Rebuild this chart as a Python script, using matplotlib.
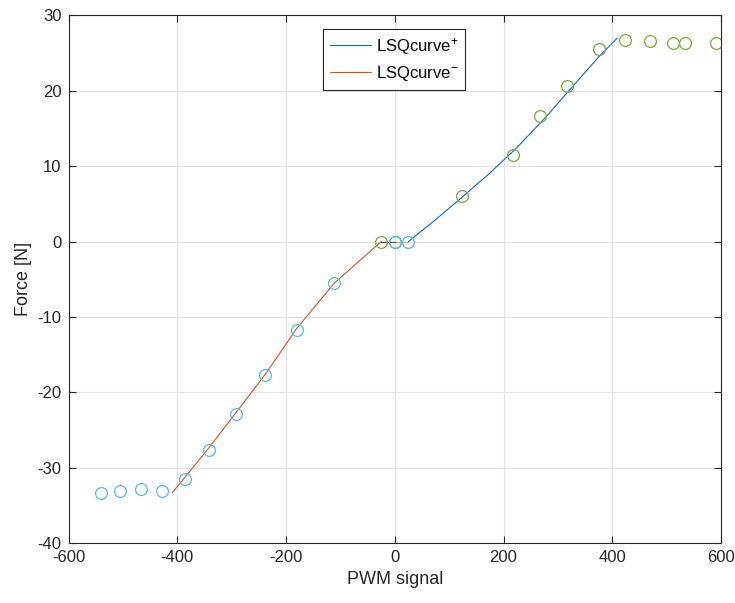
import matplotlib
matplotlib.use("Agg")
import matplotlib.pyplot as plt

# measured thrust vs PWM command
neg_pwm = [-541, -505, -467, -428, -386, -341, -292, -239, -180, -111, 0, 25]
neg_force = [-33.3, -33.1, -32.9, -33.1, -31.5, -27.6, -22.9, -17.7, -11.7, -5.5, 0, 0]
pos_pwm = [-25, 0, 124, 218, 267, 316, 376, 424, 470, 511, 534, 590]
pos_force = [0, 0, 6.0, 11.5, 16.6, 20.6, 25.5, 26.8, 26.6, 26.3, 26.3, 26.3]

# least-squares fits, evaluated over the non-saturated range
fit_pos_pwm = [25, 75, 124, 175, 225, 275, 325, 375, 409]
fit_pos_force = [0, 2.9, 5.9, 9.1, 12.5, 16.3, 20.4, 24.5, 27.0]
fit_neg_pwm = [-409, -386, -341, -292, -239, -180, -111, -25]
fit_neg_force = [-33.3, -31.3, -27.3, -22.7, -17.7, -11.5, -5.5, 0]

# dead band around zero
dead_neg_pwm = [-25, 0]
dead_pos_pwm = [0, 25]
dead_force = [0, 0]

plt.rcParams["font.family"] = ["Liberation Sans", "DejaVu Sans"]
plt.rcParams["mathtext.default"] = "regular"
plt.rcParams["axes.unicode_minus"] = False

fig = plt.figure(figsize=(7.35, 6.03), dpi=100)
ax = fig.add_axes([0.0932, 0.0995, 0.8878, 0.8748])

ax.plot(fit_pos_pwm, fit_pos_force, color="#0072BD", lw=0.8, label="LSQcurve$^{+}$")
ax.plot(fit_neg_pwm, fit_neg_force, color="#D95319", lw=0.8, label="LSQcurve$^{-}$")
ax.plot(dead_pos_pwm, dead_force, color="#EDB120", lw=0.8)
ax.plot(dead_neg_pwm, dead_force, color="#7E2F8E", lw=0.8)
ax.plot(pos_pwm, pos_force, "o", ms=8.5, mfc="none", mec="#77AC30", mew=0.9)
ax.plot(neg_pwm, neg_force, "o", ms=8.5, mfc="none", mec="#4DBEEE", mew=0.9)

ax.set_xlim(-600, 600)
ax.set_ylim(-40, 30)
ax.set_xticks(range(-600, 601, 200))
ax.set_yticks(range(-40, 31, 10))
ax.grid(True, color="#E3E3E3", lw=0.8)
ax.set_axisbelow(True)
ax.tick_params(direction="in", length=5, width=0.8, colors="#262626",
               labelsize=12, top=True, right=True, pad=5)
for spine in ax.spines.values():
    spine.set_color("#262626")
    spine.set_linewidth(0.8)

ax.set_xlabel("PWM signal", fontsize=13, color="#262626", labelpad=4)
ax.set_ylabel("Force [N]", fontsize=13, color="#262626", labelpad=4)

leg = ax.legend(loc="upper left", bbox_to_anchor=(323 / 735, 1 - 29 / 603),
                bbox_transform=fig.transFigure, borderaxespad=0, fontsize=12,
                fancybox=False, framealpha=1, edgecolor="#262626",
                handlelength=2.45, handletextpad=0.3, borderpad=0.4,
                labelspacing=0.45)
leg.get_frame().set_linewidth(0.8)

fig.savefig("out.png", dpi=100)
plt.close(fig)
